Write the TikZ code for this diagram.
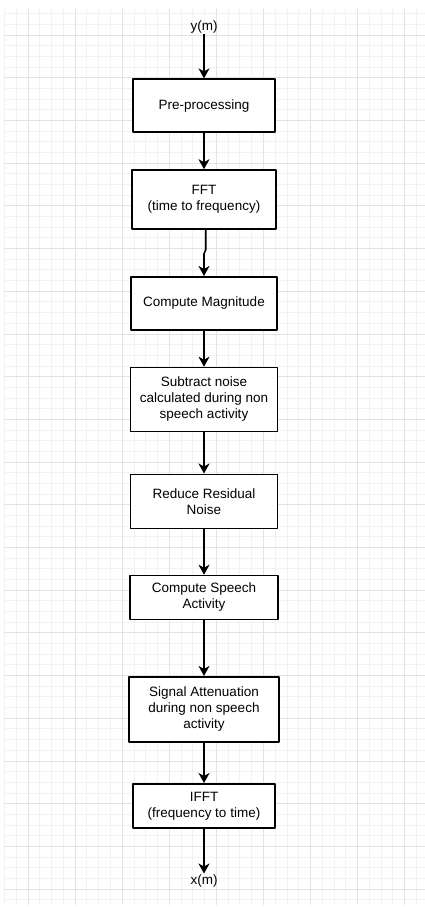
\documentclass[tikz,border=0pt]{standalone}
\usepackage{fontspec}
\setmainfont{Liberation Sans}
\usetikzlibrary{arrows.meta}
\begin{document}
\begin{tikzpicture}[x=1pt, y=-1pt, font=\fontsize{13.5}{16}\selectfont, line join=round,
  blockbox/.style={draw, line width=1.6pt, fill=white, align=center, inner sep=2pt},
  signal/.style={inner sep=1pt},
  flow/.style={line width=1.6pt, -{Stealth[length=10pt, width=11pt, inset=3pt]}},
  minorline/.style={draw=black!5, line width=0.8pt},
  majorline/.style={draw=black!11, line width=0.8pt}]
\useasboundingbox (0,0) rectangle (425,907);
% background grid
\foreach \i in {0,...,35}
  \path[minorline] ({4.46+11.77*\i},9) -- ({4.46+11.77*\i},905);
\foreach \j in {0,...,83}
  \path[minorline] (4,{13.65+10.675*\j}) -- (425,{13.65+10.675*\j});
\foreach \i in {2,6,...,34}
  \path[majorline] ({4.46+11.77*\i},9) -- ({4.46+11.77*\i},905);
\foreach \j in {2,6,...,82}
  \path[majorline] (4,{13.65+10.675*\j}) -- (425,{13.65+10.675*\j});
% blocks
\node[signal] (ym) at (204,27) {y(m)};
\node[blockbox, minimum width=142pt, minimum height=53pt] (pre) at (204,105.7) {Pre-processing};
\node[blockbox, minimum width=144pt, minimum height=59pt] (fft) at (204,199.5) {FFT\\(time to frequency)};
\node[blockbox, minimum width=146pt, minimum height=53pt] (mag) at (204,303.3) {Compute Magnitude};
\node[blockbox, minimum width=147pt, minimum height=64pt] (sub) at (204,399.5) {Subtract noise\\calculated during non\\speech activity};
\node[blockbox, minimum width=147pt, minimum height=54pt] (res) at (204,501.3) {Reduce Residual\\Noise};
\node[blockbox, minimum width=148pt, minimum height=44pt] (vad) at (204,597.5) {Compute Speech\\Activity};
\node[blockbox, minimum width=150pt, minimum height=65pt] (att) at (204,709.2) {Signal Attenuation\\during non speech\\activity};
\node[blockbox, minimum width=142pt, minimum height=44pt] (ifft) at (204,805.8) {IFFT\\(frequency to time)};
\node[signal] (xm) at (204,881) {x(m)};
% connectors
\foreach \a/\b in {ym/pre, pre/fft, mag/sub, sub/res, res/vad, vad/att, att/ifft, ifft/xm}
  \draw[flow] (\a) -- (\b);
\draw[flow] ([xshift=1.7pt]fft.south) -- ++(0,20) -- ++(-1.7,4) -- (mag.north);
\end{tikzpicture}
\end{document}
